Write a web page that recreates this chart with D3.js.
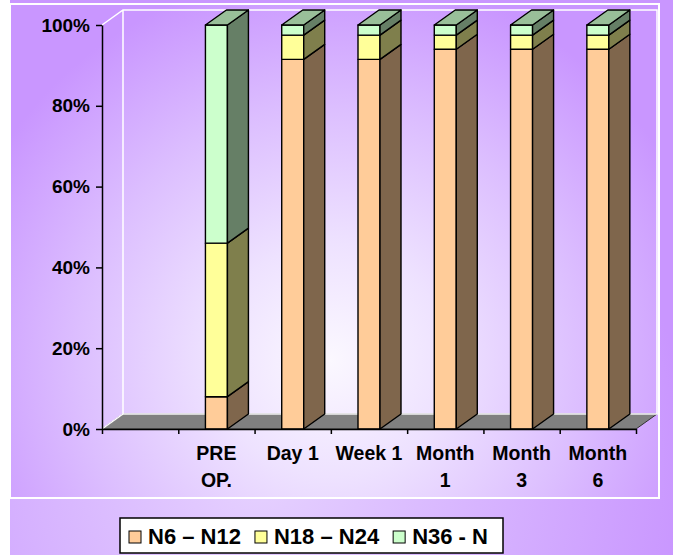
<!DOCTYPE html>
<html>
<head>
<meta charset="utf-8">
<script src="https://cdn.jsdelivr.net/npm/d3@7"></script>
<style>
  body { margin: 0; background: #ffffff; }
  svg { display: block; }
  text { font-family: "Liberation Sans", Arial, sans-serif; font-weight: bold; fill: #000; }
</style>
</head>
<body>
<svg id="chart" width="673" height="555"></svg>
<script>
// Categories along the x axis (first slot is an empty category)
const categories = ["", "PRE OP.", "Day 1", "Week 1", "Month 1", "Month 3", "Month 6"];
// Wrapped tick labels, one array of lines per category
const tickLabels = [[], ["PRE", "OP."], ["Day 1"], ["Week 1"], ["Month", "1"], ["Month", "3"], ["Month", "6"]];
// Series (percent of cases, stacked to 100%)
const seriesNames = ["N6 – N12", "N18 – N24", "N36 - N"];
const n6n12  = [0, 8, 91.5, 91.5, 94, 94, 94];
const n18n24 = [0, 38, 6, 6, 3.5, 3.5, 3.5];
const n36n   = [0, 54, 2.5, 2.5, 2.5, 2.5, 2.5];
const yTicks = [0, 20, 40, 60, 80, 100];

const frontColors = ["#FFCC99", "#FFFF99", "#CCFFCC"];
const sideColors  = ["#7F664C", "#7F7F4C", "#667F66"];
const topColors   = ["#BF9973", "#BFBF73", "#99BF99"];

const svg = d3.select("#chart");
const W = 673, H = 555;

// depth offset of the 3-D box
const DX = 21, DY = 15;

// ---- background gradients ----
const defs = svg.append("defs");
function radial(id, cx, cy, r, stops) {
  const g = defs.append("radialGradient").attr("id", id)
    .attr("gradientUnits", "userSpaceOnUse")
    .attr("cx", cx).attr("cy", cy).attr("r", r);
  stops.forEach(([o, c]) => g.append("stop").attr("offset", o).attr("stop-color", c));
}
radial("outerBg", 260, 470, 430, [[0, "#E6D2FF"], [0.55, "#D6B2FF"], [1, "#C996FF"]]);
radial("plotBg", 330, 360, 390, [[0, "#FBF8FF"], [0.3, "#EEE2FF"], [0.65, "#DCBEFF"], [1, "#C996FF"]]);

svg.append("rect").attr("x", 10).attr("y", 0).attr("width", W - 10).attr("height", H)
  .attr("fill", "url(#outerBg)");
svg.append("rect").attr("x", 10).attr("y", 4).attr("width", 649).attr("height", 494)
  .attr("fill", "url(#plotBg)").attr("stroke", "#ffffff").attr("stroke-width", 2);

// ---- scales ----
const x = d3.scaleBand().domain(categories).range([102, 636]);
const xEdge = d3.scaleLinear().domain([0, categories.length]).range([102, 636]);
const y = d3.scaleLinear().domain([0, 100]).range([429, 25]);

const x0 = xEdge(0), x1 = xEdge(categories.length);
const yb = y(0), yt = y(100);

// ---- floor ----
svg.append("path")
  .attr("d", `M${x0},${yb} L${x0 + DX},${yb - DY} L${x1 + DX},${yb - DY} L${x1},${yb} Z`)
  .attr("fill", "#808080").attr("stroke", "#333").attr("stroke-width", 1);

// ---- wall outlines ----
const wall = svg.append("g").attr("fill", "none").attr("stroke", "#ffffff").attr("stroke-width", 1.5);
wall.append("path").attr("d",
  `M${x0},${yt} L${x0 + DX},${yt - DY} L${x1 + DX},${yt - DY} L${x1 + DX},${yb - DY} L${x0 + DX},${yb - DY} L${x0 + DX},${yt - DY}`);
wall.append("path").attr("d", `M${x0},${yb} L${x0 + DX},${yb - DY}`);

// ---- stacked data ----
const rows = categories.map((c, i) => ({ cat: c, s0: n6n12[i], s1: n18n24[i], s2: n36n[i] }));
const stacked = d3.stack().keys(["s0", "s1", "s2"])(rows);

const bw = 22;
const bars = svg.append("g").attr("stroke", "#000").attr("stroke-width", 1.4).attr("stroke-linejoin", "round");

categories.forEach((c, i) => {
  const total = rows[i].s0 + rows[i].s1 + rows[i].s2;
  if (!total) return;
  const bx = x(c) + x.bandwidth() / 2 - bw / 2;
  const g = bars.append("g");
  stacked.forEach((layer, k) => {
    const d = layer[i];
    if (d[1] - d[0] <= 0) return;
    const ya = y(d[0]), yc = y(d[1]);
    g.append("rect").attr("x", bx).attr("y", yc).attr("width", bw).attr("height", ya - yc)
      .attr("fill", frontColors[k]);
    g.append("path")
      .attr("d", `M${bx + bw},${ya} L${bx + bw + DX},${ya - DY} L${bx + bw + DX},${yc - DY} L${bx + bw},${yc} Z`)
      .attr("fill", sideColors[k]);
    if (k === stacked.length - 1) {
      g.append("path")
        .attr("d", `M${bx},${yc} L${bx + DX},${yc - DY} L${bx + bw + DX},${yc - DY} L${bx + bw},${yc} Z`)
        .attr("fill", topColors[k]);
    }
  });
});

// ---- value axis ----
const yAxis = svg.append("g").attr("transform", `translate(${x0},0)`)
  .call(d3.axisLeft(y).tickValues(yTicks).tickFormat(d => d + "%").tickSize(6).tickSizeOuter(0).tickPadding(6));
yAxis.select(".domain").attr("stroke", "#000").attr("stroke-width", 1.5);
yAxis.selectAll(".tick line").attr("stroke", "#000").attr("stroke-width", 1.5);
yAxis.selectAll(".tick text")
  .style("font-family", '"Liberation Sans", Arial, sans-serif')
  .style("font-weight", "bold").style("font-size", "19px").attr("fill", "#000");

// ---- category axis ----
const xAxis = svg.append("g").attr("transform", `translate(0,${yb})`)
  .call(d3.axisBottom(xEdge).tickValues(d3.range(categories.length + 1)).tickFormat("").tickSize(5).tickSizeOuter(0));
xAxis.select(".domain").attr("stroke", "#000").attr("stroke-width", 1.5);
xAxis.selectAll(".tick line").attr("stroke", "#000").attr("stroke-width", 1.5);

const labels = svg.append("g").attr("text-anchor", "middle").style("font-size", "19.5px");
categories.forEach((c, i) => {
  const t = labels.append("text").attr("x", x(c) + x.bandwidth() / 2).attr("y", 460);
  tickLabels[i].forEach((line, j) => {
    t.append("tspan").attr("x", x(c) + x.bandwidth() / 2).attr("dy", j === 0 ? 0 : 27).text(line);
  });
});

// ---- legend ----
const legend = svg.append("g");
legend.append("rect").attr("x", 120).attr("y", 518).attr("width", 383).attr("height", 35)
  .attr("fill", "#ffffff").attr("stroke", "#000").attr("stroke-width", 1.5);
let lx = 129;
seriesNames.forEach((name, k) => {
  legend.append("rect").attr("x", lx).attr("y", 531).attr("width", 12).attr("height", 12)
    .attr("fill", frontColors[k]).attr("stroke", "#000").attr("stroke-width", 1);
  const t = legend.append("text").attr("x", lx + 19).attr("y", 544).style("font-size", "22px").text(name);
  lx += 19 + t.node().getComputedTextLength() + 14;
});
</script>
</body>
</html>
